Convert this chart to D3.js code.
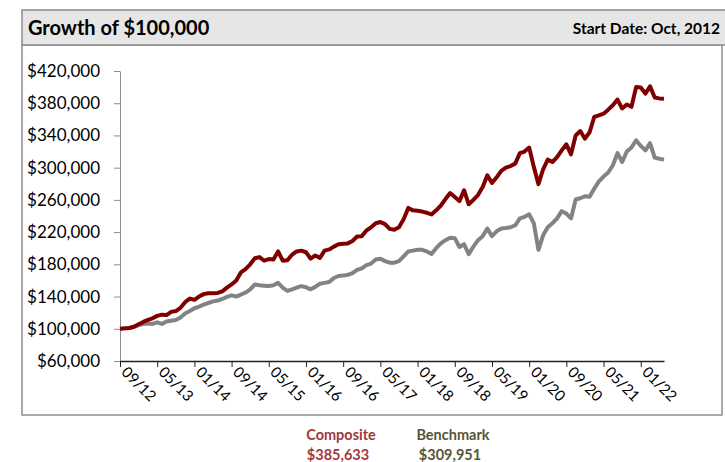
<!DOCTYPE html>
<html>
<head>
<meta charset="utf-8">
<script src="https://cdn.jsdelivr.net/npm/d3@7"></script>
<style>
  body { margin: 0; background: #fff; font-family: Lato, "Open Sans", sans-serif; }
  svg { display: block; }
</style>
</head>
<body>
<svg id="chart" width="725" height="462"></svg>
<script>
// monthly values, 09/12 .. 06/22
const composite = [
  100000, 100500, 101000, 102500, 105500, 108500, 111000, 113000, 116000, 117500,
  117000, 121000, 122000, 126000, 133000, 137500, 136000, 140000, 143000, 144000,
  144000, 144500, 146500, 151000, 155000, 160000, 170000, 174000, 180000, 187500,
  189000, 184500, 186500, 186000, 196000, 184500, 185000, 192000, 196000, 197000,
  195000, 187000, 191000, 188000, 197000, 198500, 202000, 205000, 205500, 206000,
  209000, 214500, 215000, 222000, 226000, 231000, 232500, 230000, 224000, 223000,
  226000, 236000, 250000, 247000, 246500, 245500, 244000, 242000, 247000, 253000,
  261000, 268500, 263500, 258500, 272000, 254500, 260000, 266000, 276000, 290500,
  281000, 288000, 296000, 300000, 302000, 305000, 318000, 320000, 325000, 301000,
  279500, 298000, 310000, 307000, 313000, 321500, 329000, 316500, 340000, 345500,
  336000, 344000, 363000, 365000, 367000, 372000, 377500, 384500, 373500, 378500,
  375500, 400000, 399500, 392000, 401000, 387000, 386000, 385633
];
const benchmark = [
  100000, 100500, 101000, 102500, 104500, 106000, 106500, 106000, 108000, 106000,
  109000, 110000, 111000, 114000, 119000, 122000, 125500, 127500, 130000, 132000,
  134000, 135000, 137000, 139500, 141500, 140000, 142500, 145000, 149000, 155000,
  154000, 153500, 153000, 154000, 157000, 151000, 147000, 149000, 151000, 153000,
  151500, 149000, 152000, 156000, 157000, 158000, 163000, 165500, 166000, 167000,
  169000, 173000, 175000, 179000, 181000, 186000, 187000, 184000, 182000, 182000,
  184000, 190000, 196000, 197000, 198000, 198000, 196000, 193000, 200000, 206000,
  210000, 213000, 212500, 201500, 205000, 192500, 202000, 210000, 215000, 224500,
  215000, 221000, 224500, 225000, 226000, 228500, 237000, 239000, 242000, 231000,
  198000, 216000, 226000, 231000, 237000, 246000, 243000, 237000, 260500, 262000,
  264500, 264000, 274000, 283000, 289000, 294000, 303000, 318000, 307000, 320000,
  325000, 334000, 327000, 321500, 330500, 312500, 311000, 309951
];
// labelled every 8th month
const tickLabels = ["09/12", "05/13", "01/14", "09/14", "05/15", "01/16", "09/16", "05/17",
                    "01/18", "09/18", "05/19", "01/20", "09/20", "05/21", "01/22"];
const yTicks = [60000, 100000, 140000, 180000, 220000, 260000, 300000, 340000, 380000, 420000];
const seriesNames = ["Composite", "Benchmark"];
const endValues = ["$385,633", "$309,951"];

const svg = d3.select("#chart");
const margin = { left: 120, right: 61, top: 71, bottom: 101 };
const width = 725, height = 462;

// frame + header
svg.append("rect")
    .attr("x", 22).attr("y", 45).attr("width", 700).attr("height", 370)
    .attr("fill", "#fff").attr("stroke", "#8c8c8c").attr("stroke-width", 1.5);
svg.append("rect")
    .attr("x", 22).attr("y", 10).attr("width", 710).attr("height", 35)
    .attr("fill", "#e6e6e6").attr("stroke", "#8c8c8c").attr("stroke-width", 1.5);
svg.append("text")
    .attr("x", 28).attr("y", 35)
    .attr("font-size", 20).attr("font-weight", "bold").attr("fill", "#000")
    .text("Growth of $100,000");
svg.append("text")
    .attr("x", 720).attr("y", 34).attr("text-anchor", "end")
    .attr("font-size", 15.5).attr("font-weight", "bold").attr("fill", "#000")
    .text("Start Date: Oct, 2012");

const n = composite.length;
var x = d3.scaleLinear()
    .domain([0, n - 1])
    .range([margin.left, width - margin.right]);
var y = d3.scaleLinear()
    .domain([60000, 420000])
    .range([height - margin.bottom, margin.top]);

// y axis
var yAxis = svg.append("g")
    .attr("transform", "translate(" + margin.left + ",0)")
    .call(d3.axisLeft(y).tickValues(yTicks).tickSize(6).tickPadding(14)
        .tickSizeOuter(0).tickFormat(d => "$" + d3.format(",")(d)));
yAxis.select(".domain").attr("stroke", "#8c8c8c");
yAxis.selectAll(".tick line").attr("stroke", "#8c8c8c");
yAxis.selectAll("text").attr("font-size", 17).attr("font-family", "Lato").attr("fill", "#000");

// x axis
var xAxis = svg.append("g")
    .attr("transform", "translate(0," + y(60000) + ")")
    .call(d3.axisBottom(x).tickValues(d3.range(0, n, 8)).tickSize(6).tickSizeOuter(0)
        .tickFormat((d, i) => tickLabels[i]));
xAxis.select(".domain").attr("stroke", "#222").attr("stroke-width", 1.3);
xAxis.selectAll(".tick line").attr("stroke", "#222");
xAxis.selectAll("text")
    .attr("font-size", 15).attr("font-family", "Lato").attr("fill", "#000")
    .attr("text-anchor", "start")
    .attr("y", 0).attr("dy", 0)
    .attr("transform", "translate(0,12) rotate(45)");

// lines
var line = d3.line()
    .x((d, i) => x(i))
    .y(d => y(d));
svg.append("path").datum(benchmark)
    .attr("d", line).attr("fill", "none")
    .attr("stroke", "#838383").attr("stroke-width", 4).attr("stroke-linejoin", "round");
svg.append("path").datum(composite)
    .attr("d", line).attr("fill", "none")
    .attr("stroke", "#800000").attr("stroke-width", 4).attr("stroke-linejoin", "round");

// legend under the frame
const legendColors = ["#a0393a", "#575536"];
const legendX = [341, 453];
seriesNames.forEach((name, i) => {
    svg.append("text")
        .attr("x", legendX[i]).attr("y", 440).attr("text-anchor", "middle")
        .attr("font-size", 14.5).attr("font-weight", "bold").attr("fill", legendColors[i])
        .text(name);
    svg.append("text")
        .attr("x", legendX[i] - 3).attr("y", 460).attr("text-anchor", "middle")
        .attr("font-size", 14.5).attr("font-weight", "bold").attr("fill", legendColors[i])
        .text(endValues[i]);
});
</script>
</body>
</html>
